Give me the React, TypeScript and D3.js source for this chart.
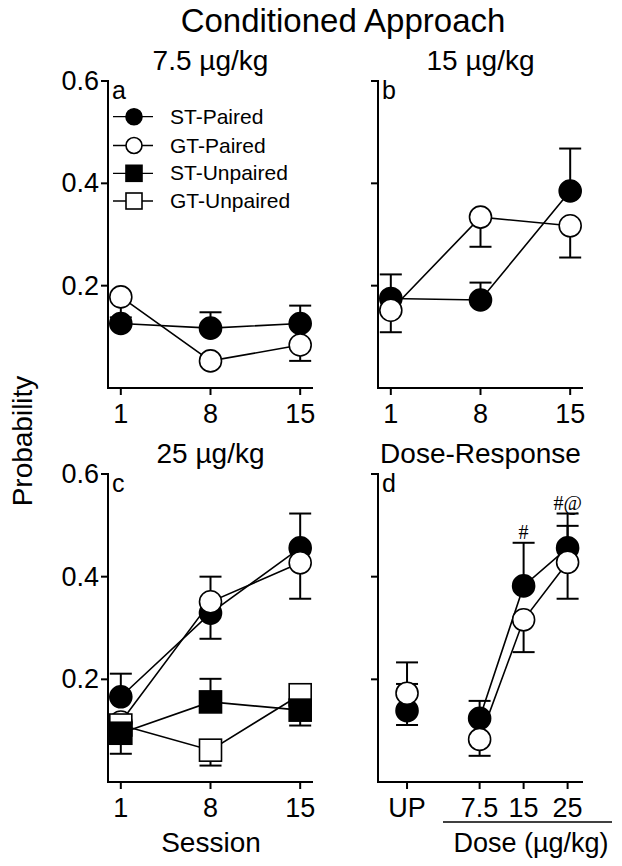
import * as d3 from 'd3';

const sessions = [1, 8, 15];
const doses = ['UP', '7.5', '15', '25'];
const yTicks = [0.2, 0.4, 0.6];
const legendNames = ['ST-Paired', 'GT-Paired', 'ST-Unpaired', 'GT-Unpaired'];

// panel a: 7.5 ug/kg
const aStPaired = [0.126, 0.117, 0.126];
const aStPairedUp = [0, 0.031, 0.035];
const aGtPaired = [0.178, 0.053, 0.084];
const aGtPairedDn = [0.04, 0, 0.031];

// panel b: 15 ug/kg
const bStPaired = [0.175, 0.172, 0.385];
const bStPairedUp = [0.047, 0.034, 0.083];
const bGtPaired = [0.152, 0.334, 0.317];
const bGtPairedDn = [0.043, 0.058, 0.062];

// panel c: 25 ug/kg
const cStPaired = [0.166, 0.329, 0.456];
const cStPairedUp = [0.045, 0.071, 0.067];
const cGtPaired = [0.117, 0.351, 0.427];
const cGtPairedDn = [0, 0.072, 0.07];
const cStUnpaired = [0.095, 0.156, 0.14];
const cStUnpairedUp = [0, 0.045, 0];
const cStUnpairedDn = [0.04, 0, 0.03];
const cGtUnpaired = [0.111, 0.062, 0.17];
const cGtUnpairedDn = [0, 0.03, 0];

// panel d: dose-response (UP, 7.5, 15, 25)
const dStPaired = [0.139, 0.124, 0.382, 0.456];
const dStPairedUp = [0.052, 0.034, 0.084, 0.067];
const dStPairedDn = [0.028, 0, 0, 0];
const dGtPaired = [0.173, 0.083, 0.316, 0.428];
const dGtPairedUp = [0.06, 0, 0, 0.071];
const dGtPairedDn = [0, 0.032, 0.063, 0.071];
const dMarks = ['', '', '#', '#@'];

const zeros = (n: number) => new Array(n).fill(0);
const FONT = 'Liberation Sans, Arial, Helvetica, sans-serif';

type Series = {
  vals: number[];
  up: number[];
  dn: number[];
  shape: 'circle' | 'square';
  filled: boolean;
  lineFrom: number;
};

const yTop = d3.scaleLinear().domain([0, 0.6]).range([388, 81]);
const yBot = d3.scaleLinear().domain([0, 0.6]).range([782, 474]);
const xLeftTop = d3.scaleLinear().domain([0, 16]).range([108, 313]);
const xRightTop = d3.scaleLinear().domain([0, 16]).range([378, 583]);
const xDose = d3.scaleLinear().domain([0, 4.66]).range([378, 583]);
const doseSlot = [0.66, 2.31, 3.31, 4.31];

function Marker({ cx, cy, shape, filled, r }: { cx: number; cy: number; shape: string; filled: boolean; r: number }) {
  const fill = filled ? '#000' : '#fff';
  if (shape === 'circle') return <circle cx={cx} cy={cy} r={r} fill={fill} stroke="#000" strokeWidth={1.6} />;
  return <rect x={cx - r} y={cy - r} width={2 * r} height={2 * r} fill={fill} stroke="#000" strokeWidth={1.6} />;
}

function Panel({
  xLo, xHi, px, y, tickLabels, series, letter, title, showYLabels,
}: {
  xLo: number; xHi: number; px: number[]; y: d3.ScaleLinear<number, number>; tickLabels: string[];
  series: Series[]; letter: string; title: string; showYLabels: boolean;
}) {
  const [yb, ya] = y.range();
  const line = d3.line<[number, number]>().x((d) => d[0]).y((d) => d[1]);
  const cap = 11;
  return (
    <g>
      <text x={(xLo + xHi) / 2} y={ya - 11} textAnchor="middle" fontSize={28} fontFamily={FONT}>{title}</text>
      <line x1={xLo} x2={xLo} y1={ya - 1} y2={yb + 1} stroke="#000" strokeWidth={2} />
      <line x1={xLo - 1} x2={xHi} y1={yb} y2={yb} stroke="#000" strokeWidth={2} />
      {yTicks.map((t) => (
        <g key={t}>
          <line x1={xLo - 7} x2={xLo} y1={y(t)} y2={y(t)} stroke="#000" strokeWidth={2} />
          {showYLabels && (
            <text x={xLo - 9} y={y(t) + 9} textAnchor="end" fontSize={27} fontFamily={FONT}>{t.toFixed(1)}</text>
          )}
        </g>
      ))}
      {px.map((p, i) => (
        <g key={i}>
          <line x1={p} x2={p} y1={yb} y2={yb + 7} stroke="#000" strokeWidth={2} />
          <text x={p} y={yb + 35} textAnchor="middle" fontSize={27} fontFamily={FONT}>{tickLabels[i]}</text>
        </g>
      ))}
      <text x={xLo + 4} y={ya + 18} fontSize={25} fontFamily={FONT}>{letter}</text>
      {series.map((s, k) => (
        <path
          key={'l' + k}
          d={line(s.vals.map((v, i) => [px[i], y(v)] as [number, number]).slice(s.lineFrom)) || ''}
          fill="none"
          stroke="#000"
          strokeWidth={1.6}
        />
      ))}
      {series.map((s, k) => (
        <g key={'e' + k} stroke="#000" strokeWidth={2}>
          {s.vals.map((v, i) => (
            <g key={i}>
              {s.up[i] > 0 && (
                <>
                  <line x1={px[i]} x2={px[i]} y1={y(v)} y2={y(v + s.up[i])} />
                  <line x1={px[i] - cap} x2={px[i] + cap} y1={y(v + s.up[i])} y2={y(v + s.up[i])} />
                </>
              )}
              {s.dn[i] > 0 && (
                <>
                  <line x1={px[i]} x2={px[i]} y1={y(v)} y2={y(v - s.dn[i])} />
                  <line x1={px[i] - cap} x2={px[i] + cap} y1={y(v - s.dn[i])} y2={y(v - s.dn[i])} />
                </>
              )}
            </g>
          ))}
        </g>
      ))}
      {series.map((s, k) => (
        <g key={'m' + k}>
          {s.vals.map((v, i) => (
            <Marker key={i} cx={px[i]} cy={y(v)} shape={s.shape} filled={s.filled} r={11} />
          ))}
        </g>
      ))}
    </g>
  );
}

export default function App() {
  const sessPxL = sessions.map((s) => xLeftTop(s));
  const sessPxR = sessions.map((s) => xRightTop(s));
  const dosePx = doseSlot.map((s) => xDose(s));
  const sLabels = sessions.map(String);

  const panelA: Series[] = [
    { vals: aStPaired, up: aStPairedUp, dn: zeros(3), shape: 'circle', filled: true, lineFrom: 0 },
    { vals: aGtPaired, up: zeros(3), dn: aGtPairedDn, shape: 'circle', filled: false, lineFrom: 0 },
  ];
  const panelB: Series[] = [
    { vals: bStPaired, up: bStPairedUp, dn: zeros(3), shape: 'circle', filled: true, lineFrom: 0 },
    { vals: bGtPaired, up: zeros(3), dn: bGtPairedDn, shape: 'circle', filled: false, lineFrom: 0 },
  ];
  const panelC: Series[] = [
    { vals: cStPaired, up: cStPairedUp, dn: zeros(3), shape: 'circle', filled: true, lineFrom: 0 },
    { vals: cGtPaired, up: zeros(3), dn: cGtPairedDn, shape: 'circle', filled: false, lineFrom: 0 },
    { vals: cGtUnpaired, up: zeros(3), dn: cGtUnpairedDn, shape: 'square', filled: false, lineFrom: 0 },
    { vals: cStUnpaired, up: cStUnpairedUp, dn: cStUnpairedDn, shape: 'square', filled: true, lineFrom: 0 },
  ];
  const panelD: Series[] = [
    { vals: dStPaired, up: dStPairedUp, dn: dStPairedDn, shape: 'circle', filled: true, lineFrom: 1 },
    { vals: dGtPaired, up: dGtPairedUp, dn: dGtPairedDn, shape: 'circle', filled: false, lineFrom: 1 },
  ];

  const legendRows = [116.7, 145.5, 173.3, 201];
  const legendStyle = [
    { shape: 'circle', filled: true },
    { shape: 'circle', filled: false },
    { shape: 'square', filled: true },
    { shape: 'square', filled: false },
  ];

  return (
    <svg width={622} height={866} style={{ position: 'absolute', left: 0, top: 0, background: '#fff' }}>
      <rect width={622} height={866} fill="#fff" />
      <text x={343} y={32} textAnchor="middle" fontSize={33} fontFamily={FONT}>Conditioned Approach</text>
      <text transform="translate(32,441) rotate(-90)" textAnchor="middle" fontSize={28} fontFamily={FONT}>Probability</text>

      <Panel xLo={108} xHi={313} px={sessPxL} y={yTop} tickLabels={sLabels} series={panelA} letter="a" title="7.5 µg/kg" showYLabels />
      <Panel xLo={378} xHi={583} px={sessPxR} y={yTop} tickLabels={sLabels} series={panelB} letter="b" title="15 µg/kg" showYLabels={false} />
      <Panel xLo={108} xHi={313} px={sessPxL} y={yBot} tickLabels={sLabels} series={panelC} letter="c" title="25 µg/kg" showYLabels />
      <Panel xLo={378} xHi={583} px={dosePx} y={yBot} tickLabels={doses} series={panelD} letter="d" title="Dose-Response" showYLabels={false} />

      {legendNames.map((name, i) => (
        <g key={name}>
          <line x1={113} x2={153} y1={legendRows[i]} y2={legendRows[i]} stroke="#000" strokeWidth={1.3} />
          <Marker cx={134} cy={legendRows[i]} shape={legendStyle[i].shape} filled={legendStyle[i].filled} r={8} />
          <text x={170} y={legendRows[i] + 7} fontSize={21} fontFamily={FONT}>{name}</text>
        </g>
      ))}

      {dMarks.map((m, i) =>
        m ? (
          <text key={i} x={dosePx[i]} y={yBot(dStPaired[i] + dStPairedUp[i]) - 4} textAnchor="middle" fontSize={20} fontFamily="Liberation Serif, Times New Roman, serif">{m}</text>
        ) : null,
      )}

      <text x={211} y={852} textAnchor="middle" fontSize={28} fontFamily={FONT}>Session</text>
      <line x1={443} x2={612} y1={822} y2={822} stroke="#000" strokeWidth={1.5} />
      <text x={531} y={852} textAnchor="middle" fontSize={27} fontFamily={FONT}>Dose (µg/kg)</text>
    </svg>
  );
}
